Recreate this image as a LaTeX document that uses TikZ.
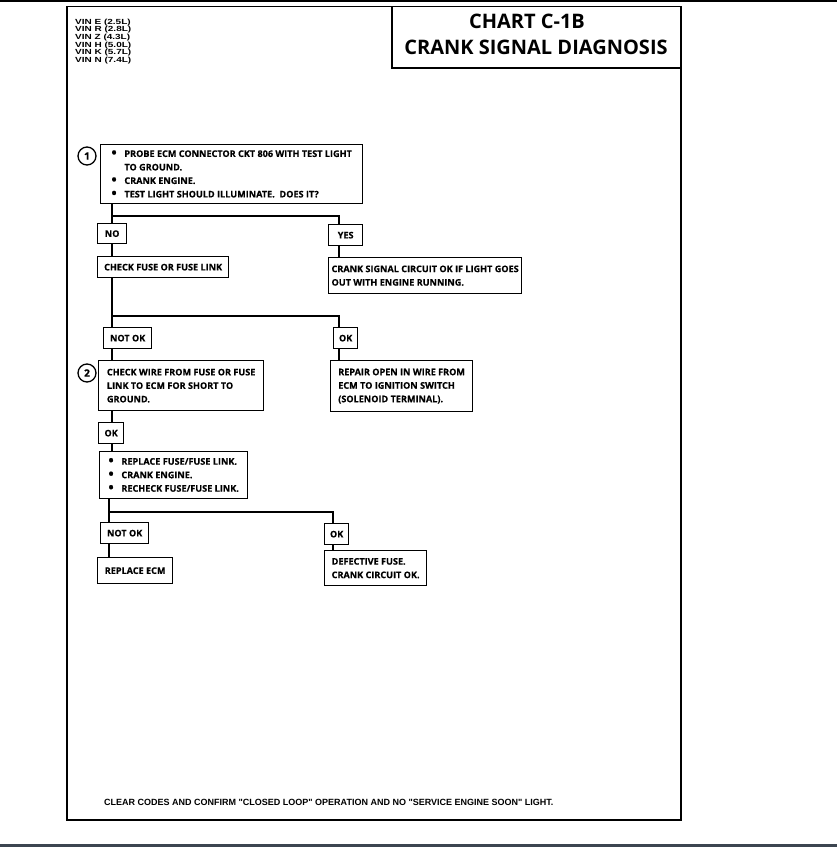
\documentclass[tikz,border=0pt]{standalone}
\usepackage{fontspec}
\newfontfamily\chartfont{Open Sans}[BoldFeatures={FakeBold=0.4}]
\newfontfamily\titlefont{Open Sans}
\newfontfamily\vinfont{Liberation Sans}
\newfontfamily\vinwide[FakeStretch=1.35]{Liberation Sans}
\definecolor{barcol}{HTML}{3C4550}
\newcommand\bul{\makebox[13pt][l]{\raisebox{-0.6pt}{\fontsize{14}{14}\selectfont\textbullet}}}
\newcommand\ind{\hspace*{13pt}}
\newcommand\tightlines{\lineskiplimit-20pt\relax\lineskip0pt\relax}
\begin{document}
\begin{tikzpicture}[x=1pt, y=-1pt,
  conn/.style={line width=2.6pt, line join=miter},
  bx/.style={draw, line width=1.3pt, fill=white, inner sep=0pt, anchor=north west, align=left,
    font=\chartfont\bfseries\fontsize{9.1}{13.5}\selectfont},
  numc/.style={circle, draw, line width=1.3pt, fill=white, minimum size=18pt, inner sep=0pt,
    font=\chartfont\bfseries\fontsize{10}{10}\selectfont},
  ttl/.style={inner sep=0pt, font=\titlefont\bfseries\fontsize{20}{20}\selectfont}]
\useasboundingbox (0,0) rectangle (837,847);
\fill[white] (0,0) rectangle (837,847);
% page lines
\fill[black] (0,0) rectangle (837,1.6);
\fill[barcol] (0,844) rectangle (837,847);
% frame and title box
\draw[line width=1.8pt] (67,6.5) rectangle (681,820);
\draw[line width=1.5pt] (392,6.5) -- (392,68) -- (681,68);
\node[ttl] (t1) at (527,21) {CHART C-1B};
\node[ttl] (t2) at (536,47) {CRANK SIGNAL DIAGNOSIS};
\node[anchor=north west, inner sep=0pt, align=left,
  font=\vinwide\bfseries\fontsize{7.4}{7.6}\selectfont\tightlines] (vin) at (75,18.8)
  {VIN E (2.5L)\\VIN R (2.8L)\\VIN Z (4.3L)\\VIN H (5.0L)\\VIN K (5.7L)\\VIN N (7.4L)};
% boxes
\node[bx, minimum width=262pt, minimum height=59pt] (b1) at (100,144)
  {\bul PROBE ECM CONNECTOR CKT 806 WITH TEST LIGHT\\\ind TO GROUND.\\\bul CRANK ENGINE.\\\bul TEST LIGHT SHOULD ILLUMINATE.\ \ DOES IT?};
\node[numc] (c1) at (87,156) {1};
\node[bx, minimum width=29pt, minimum height=20pt] (no1) at (97,223) {NO};
\node[bx, minimum width=34pt, minimum height=21pt] (yes1) at (328,224) {YES};
\node[bx, minimum width=131pt, minimum height=21pt] (fuse) at (97,256) {CHECK FUSE OR FUSE LINK};
\node[bx, minimum width=193pt, minimum height=36pt] (crankok) at (328,257)
  {CRANK SIGNAL CIRCUIT OK IF LIGHT GOES\\OUT WITH ENGINE RUNNING.};
\node[bx, minimum width=48pt, minimum height=21pt] (notok1) at (103,327) {NOT OK};
\node[bx, minimum width=24pt, minimum height=21pt] (ok1) at (333,327) {OK};
\node[bx, minimum width=165pt, minimum height=50pt] (b2) at (98,360)
  {CHECK WIRE FROM FUSE OR FUSE\\LINK TO ECM FOR SHORT TO\\GROUND.};
\node[numc] (c2) at (87,373) {2};
\node[bx, minimum width=142pt, minimum height=51pt] (repair) at (330,360)
  {REPAIR OPEN IN WIRE FROM\\ECM TO IGNITION SWITCH\\(SOLENOID TERMINAL).};
\node[bx, minimum width=25pt, minimum height=21pt] (ok2) at (98,422) {OK};
\node[bx, minimum width=148pt, minimum height=47pt] (b3) at (99,451)
  {\bul REPLACE FUSE/FUSE LINK.\\\bul CRANK ENGINE.\\\bul RECHECK FUSE/FUSE LINK.};
\node[bx, minimum width=48pt, minimum height=21pt] (notok2) at (100,522) {NOT OK};
\node[bx, minimum width=24pt, minimum height=21pt] (ok3) at (324,523) {OK};
\node[bx, minimum width=75pt, minimum height=26pt] (ecm) at (97,557) {REPLACE ECM};
\node[bx, minimum width=102pt, minimum height=35pt] (defect) at (324,550)
  {DEFECTIVE FUSE.\\CRANK CIRCUIT OK.};
% junctions
\coordinate (j1) at (112,216); \coordinate (k1) at (339,216);
\coordinate (j2) at (112,316); \coordinate (k2) at (339,316);
\coordinate (j3) at (109,512); \coordinate (k3) at (333,512);
% connectors
\draw[conn] (b1.south -| j1) -- (no1.north -| j1);
\draw[conn] (j1) -- (k1) -- (yes1.north -| k1);
\draw[conn] (no1.south -| j1) -- (fuse.north -| j1);
\draw[conn] (yes1.south -| k1) -- (crankok.north -| k1);
\draw[conn] (fuse.south -| j2) -- (notok1.north -| j2);
\draw[conn] (j2) -- (k2) -- (ok1.north -| k2);
\draw[conn] (notok1.south -| j2) -- (b2.north -| j2);
\draw[conn] (ok1.south -| k2) -- (repair.north -| k2);
\draw[conn] (b2.south -| j2) -- (ok2.north -| j2);
\draw[conn] (ok2.south -| j2) -- (b3.north -| j2);
\draw[conn] (b3.south -| j3) -- (notok2.north -| j3);
\draw[conn] (j3) -- (k3) -- (ok3.north -| k3);
\draw[conn] (notok2.south -| j3) -- (ecm.north -| j3);
\draw[conn] (ok3.south -| k3) -- (defect.north -| k3);
% footer
\node[anchor=west, inner sep=0pt, font=\vinfont\bfseries\fontsize{9}{9}\selectfont] (foot) at (104,802)
  {CLEAR CODES AND CONFIRM "CLOSED LOOP" OPERATION AND NO "SERVICE ENGINE SOON" LIGHT.};
\end{tikzpicture}
\end{document}
